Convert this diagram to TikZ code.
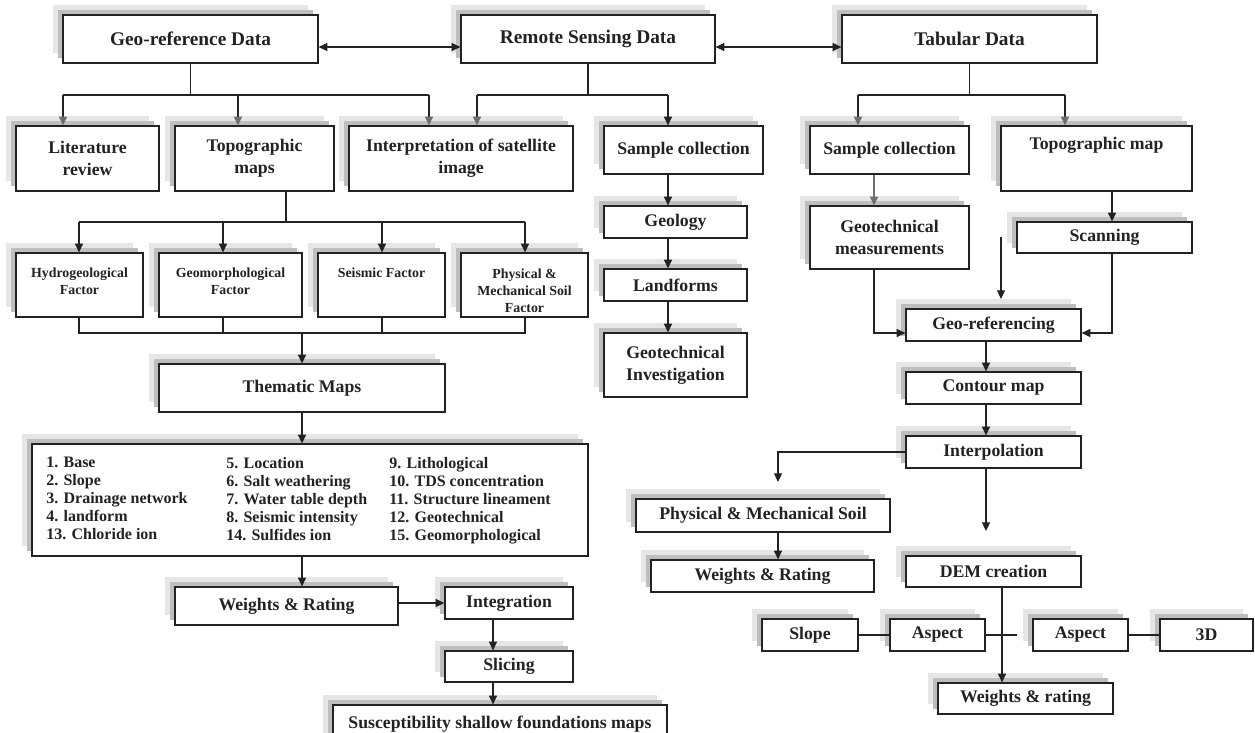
\documentclass[tikz,border=0pt]{standalone}
\usepackage{fontspec}
\setmainfont{Liberation Serif}
\usetikzlibrary{arrows.meta}
\definecolor{ln}{HTML}{222222}
\definecolor{gtip}{HTML}{6E6E6E}
\definecolor{shd}{HTML}{BEBEBE}
\definecolor{shl}{HTML}{E6E6E6}
\newcommand\bx[7]{\node[box,#6,minimum width={(#4-#2)*0.75pt},minimum height={(#5-#3)*0.75pt}] (#1) at ({(#2+#4)/2},{(#3+#5)/2}) {#7};}
\tikzset{
 box/.style={draw=ln,line width=0.9pt,fill=white,inner sep=0pt,align=center,text=ln,
   preaction={fill=shl,transform canvas={xshift=-7.5pt,yshift=7.5pt}},
   preaction={fill=shd,transform canvas={xshift=-3.75pt,yshift=3.75pt}}},
 hdr/.style={font=\fontsize{14.5}{17}\selectfont\bfseries},
 nrm/.style={font=\fontsize{13.3}{16.5}\selectfont\bfseries},
 sml/.style={font=\fontsize{10.4}{12.75}\selectfont\bfseries},
 lst/.style={font=\fontsize{12}{13.5}\selectfont\bfseries,align=left,anchor=north west,inner sep=0pt,text=ln},
 txt/.style={inner sep=0pt,align=center,text=ln},
 con/.style={draw=ln,line width=0.8pt},
 arr/.style={con,-{Triangle[length=6.5pt,width=6pt]}},
 garr/.style={con,-{Triangle[length=6.5pt,width=6pt,color=gtip]}},
 ggarr/.style={draw=gtip,line width=0.8pt,-{Triangle[length=6.5pt,width=6pt]}},
 dbl/.style={con,{Triangle[length=6.5pt,width=6pt]}-{Triangle[length=6.5pt,width=6pt]}}
}
\begin{document}
\begin{tikzpicture}[x=0.75pt,y=-0.75pt]
\useasboundingbox (0,0) rectangle (1255,732);
\clip (0,0) rectangle (1255,732);
\fill[white] (0,0) rectangle (1255,732);
% boxes
\bx{geo}{63}{15}{318}{63}{hdr}{Geo-reference Data}
\bx{rsd}{461}{15}{715}{63}{hdr}{Remote Sensing Data}
\bx{tab}{842}{15}{1097}{63}{hdr}{Tabular Data}
\bx{lit}{16}{126}{159}{191}{nrm}{Literature\\review}
\bx{topo}{175}{126}{334}{191}{nrm}{Topographic\\maps}
\bx{interp}{349}{126}{573}{191}{nrm}{Interpretation of satellite\\image}
\bx{samp1}{604}{126}{763}{174}{nrm}{Sample collection}
\bx{samp2}{810}{126}{969}{174}{nrm}{Sample collection}
\bx{topomap}{1001}{126}{1192}{191}{nrm}{}
\bx{hydro}{16}{253}{143}{317}{sml}{}
\bx{geom}{159}{253}{302}{317}{sml}{}
\bx{seis}{318}{253}{445}{317}{sml}{}
\bx{phys}{461}{253}{588}{317}{sml}{}
\bx{them}{159}{364}{445}{412}{nrm}{Thematic Maps}
\bx{list}{32}{444}{588}{556}{nrm}{}
\bx{wr}{175}{587}{398}{625}{nrm}{Weights \& Rating}
\bx{integ}{445}{587}{573}{619}{nrm}{Integration}
\bx{slic}{445}{651}{573}{682}{nrm}{Slicing}
\bx{susc}{333}{705}{667}{743}{nrm}{Susceptibility shallow foundations maps}
\bx{geology}{604}{206}{747}{238}{nrm}{Geology}
\bx{landf}{604}{269}{747}{301}{nrm}{Landforms}
\bx{geoinv}{604}{333}{747}{397}{nrm}{Geotechnical\\Investigation}
\bx{geomeas}{810}{206}{969}{269}{nrm}{Geotechnical\\measurements}
\bx{scan}{1017}{222}{1192}{253}{nrm}{Scanning}
\bx{georef}{906}{309}{1081}{341}{nrm}{Geo-referencing}
\bx{contour}{906}{372}{1081}{404}{nrm}{Contour map}
\bx{interpol}{906}{436}{1081}{468}{nrm}{Interpolation}
\bx{pms}{636}{499}{890}{532}{nrm}{Physical \& Mechanical Soil}
\bx{wr2}{651}{560}{874}{592}{nrm}{Weights \& Rating}
\bx{dem}{906}{556}{1081}{587}{nrm}{DEM creation}
\bx{slope}{762}{619}{858}{651}{nrm}{Slope}
\bx{asp1}{890}{619}{985}{651}{nrm}{Aspect}
\bx{asp2}{1033}{619}{1128}{651}{nrm}{Aspect}
\bx{d3}{1160}{619}{1253}{651}{nrm}{3D}
\bx{wr3}{938}{683}{1113}{714}{nrm}{Weights \& rating}
% top-aligned texts
\node[txt,nrm] (topomapt) at (1096.5,145) {Topographic map};
\node[txt,sml] (hydrot) at (79.5,281.5) {Hydrogeological\\Factor};
\node[txt,sml] (geomt) at (230.5,281.5) {Geomorphological\\Factor};
\node[txt,sml] (seist) at (381.5,273) {Seismic Factor};
\node[txt,sml] (physt) at (524.5,290.5) {Physical \&\\Mechanical Soil\\Factor};
% list
\node[lst] (l1) at (46,457) {1. Base\\2. Slope\\3. Drainage network\\4. landform\\13. Chloride ion};
\node[lst] (l2) at (226,457) {5. Location\\6. Salt weathering\\7. Water table depth\\8. Seismic intensity\\14. Sulfides ion};
\node[lst] (l3) at (389,457) {9. Lithological\\10. TDS concentration\\11. Structure lineament\\12. Geotechnical\\15. Geomorphological};
% top arrows
\coordinate (y47) at (0,47);
\draw[dbl] (geo.east |- y47) -- (rsd.west |- y47);
\draw[dbl] (rsd.east |- y47) -- (tab.west |- y47);
% geo branch
\coordinate (gL) at (63,95); \coordinate (gM) at (238,95); \coordinate (gR) at (429,95);
\draw[con] (geo.south) -- (geo.south |- gL);
\draw[con] (gL) -- (gR);
\draw[garr] (gL) -- (gL |- lit.north);
\draw[garr] (gM) -- (gM |- topo.north);
\draw[garr] (gR) -- (gR |- interp.north);
% remote branch
\coordinate (rL) at (477,95); \coordinate (rR) at (668,95);
\draw[con] (rsd.south) -- (rsd.south |- rL);
\draw[con] (rL) -- (rR);
\draw[garr] (rL) -- (rL |- interp.north);
\draw[arr] (rR) -- (rR |- samp1.north);
% tabular branch
\coordinate (tL) at (858,95); \coordinate (tR) at (1065,95);
\draw[con] (tab.south) -- (tab.south |- tL);
\draw[con] (tL) -- (tR);
\draw[garr] (tL) -- (tL |- samp2.north);
\draw[garr] (tR) -- (tR |- topomap.north);
% factors
\coordinate (fT) at (286,222);
\coordinate (f1) at (79,222); \coordinate (f2) at (223,222); \coordinate (f3) at (382,222); \coordinate (f4) at (525,222);
\draw[con] (fT |- topo.south) -- (fT);
\draw[con] (f1) -- (f4);
\draw[arr] (f1) -- (f1 |- hydro.north);
\draw[arr] (f2) -- (f2 |- geom.north);
\draw[arr] (f3) -- (f3 |- seis.north);
\draw[arr] (f4) -- (f4 |- phys.north);
\coordinate (b1) at (79,333); \coordinate (b2) at (223,333); \coordinate (b3) at (382,333); \coordinate (b4) at (525,333); \coordinate (bm) at (302,333);
\draw[con] (b1 |- hydro.south) -- (b1) -- (b4) -- (b4 |- phys.south);
\draw[con] (b2 |- geom.south) -- (b2);
\draw[con] (b3 |- seis.south) -- (b3);
\draw[arr] (bm) -- (bm |- them.north);
\draw[arr] (them.south) -- (them.south |- list.north);
\draw[arr] (them.south |- list.south) -- (them.south |- wr.north);
\coordinate (iy) at (0,603);
\draw[arr] (wr.east |- iy) -- (integ.west |- iy);
\coordinate (ix) at (493,0);
\draw[arr] (ix |- integ.south) -- (ix |- slic.north);
\draw[arr] (ix |- slic.south) -- (ix |- susc.north);
% remote sensing column
\coordinate (sx) at (668,0);
\draw[arr] (sx |- samp1.south) -- (sx |- geology.north);
\draw[arr] (sx |- geology.south) -- (sx |- landf.north);
\draw[arr] (sx |- landf.south) -- (sx |- geoinv.north);
% tabular column
\coordinate (mx) at (874,0); \coordinate (gy) at (0,333);
\draw[ggarr] (mx |- samp2.south) -- (mx |- geomeas.north);
\draw[arr] (mx |- geomeas.south) -- (mx |- gy) -- (georef.west |- gy);
\coordinate (kx) at (1112,0);
\draw[arr] (kx |- topomap.south) -- (kx |- scan.north);
\draw[arr] (kx |- scan.south) -- (kx |- gy) -- (georef.east |- gy);
\coordinate (fa1) at (1001,237); \coordinate (fa2) at (1001,299);
\draw[arr] (fa1) -- (fa2);
\coordinate (cx) at (986,0);
\draw[arr] (cx |- georef.south) -- (cx |- contour.north);
\draw[arr] (cx |- contour.south) -- (cx |- interpol.north);
\coordinate (pj) at (778,452); \coordinate (pe) at (778,482);
\draw[arr] (interpol.west |- pj) -- (pj) -- (pe);
\coordinate (de) at (986,531);
\draw[arr] (cx |- interpol.south) -- (de);
\draw[arr] (pj |- pms.south) -- (pj |- wr2.north);
\coordinate (dx) at (1002,0);
\draw[arr] (dx |- dem.south) -- (dx |- wr3.north);
\coordinate (ay) at (0,635); \coordinate (ae) at (1017,635);
\draw[con] (slope.east |- ay) -- (asp1.west |- ay);
\draw[con] (asp1.east |- ay) -- (ae);
\draw[con] (asp2.east |- ay) -- (d3.west |- ay);
\end{tikzpicture}
\end{document}
